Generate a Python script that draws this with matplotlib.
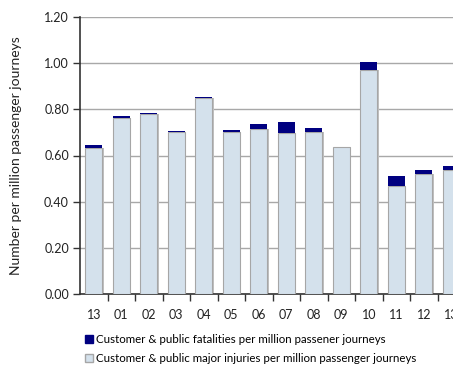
import numpy as np
import matplotlib.pyplot as plt
from matplotlib.patches import Patch

periods = ['13', '01', '02', '03', '04', '05', '06', '07', '08', '09', '10', '11', '12', '13']
injuries = [0.633, 0.762, 0.779, 0.700, 0.848, 0.700, 0.714, 0.698, 0.701, 0.636, 0.970, 0.468, 0.520, 0.537]
totals = [0.645, 0.771, 0.784, 0.706, 0.853, 0.710, 0.736, 0.745, 0.719, 0.636, 1.004, 0.511, 0.537, 0.554]
fatalities = [t - i for t, i in zip(totals, injuries)]

light = '#d4e1ec'
dark = '#000080'
edge = '#a6a6a6'

plt.rcParams['font.family'] = ['Lato', 'DejaVu Sans']

fig = plt.figure(figsize=(4.53, 3.65), dpi=100)
ax = fig.add_axes([80 / 453, 71 / 365, 385 / 453, 277 / 365])

x = np.arange(len(periods))
w = 0.62
ax.bar(x + 0.06, injuries, w, color='#c0c0c0', zorder=2)
ax.bar(x, injuries, w, color=light, edgecolor=edge, linewidth=0.8, zorder=3)
ax.bar(x, fatalities, w, bottom=injuries, color=dark, linewidth=0, zorder=3)

ax.set_xlim(-0.5, 13.5)
ax.set_ylim(0, 1.2)
ax.set_yticks(np.arange(0, 1.21, 0.2))
ax.set_yticklabels(['%.2f' % v for v in np.arange(0, 1.21, 0.2)], fontsize=9, color='#222222')
ax.yaxis.grid(True, color='#a8a8a8', linewidth=1.0, zorder=0)
ax.set_axisbelow(True)

ax.set_xticks(x + 0.5)
ax.set_xticklabels([])
ax.set_xticks(x, minor=True)
ax.set_xticklabels(periods, minor=True, fontsize=9, color='#222222')
ax.tick_params(axis='x', which='minor', length=0, pad=11)
ax.tick_params(axis='x', which='major', length=5, width=1, color='#333333')
ax.tick_params(axis='y', length=5, width=1, color='#333333', pad=3)

for s in ['top', 'right']:
    ax.spines[s].set_visible(False)
for s in ['left', 'bottom']:
    ax.spines[s].set_color('#333333')
    ax.spines[s].set_linewidth(1.2)

ax.set_ylabel('Number per million passenger journeys', fontsize=10, color='#222222')
ax.yaxis.set_label_coords(-0.15, 0.5)

handles = [Patch(facecolor=dark, edgecolor=dark),
           Patch(facecolor=light, edgecolor=edge)]
labels = ['Customer & public fatalities per million passener journeys',
          'Customer & public major injuries per million passenger journeys']
fig.legend(handles, labels, loc='upper left', bbox_to_anchor=(79 / 453, 1 - 328 / 365),
           frameon=False, fontsize=8.3, handlelength=0.7, handleheight=0.7,
           handletextpad=0.25, labelspacing=0.75, borderpad=0)

fig.savefig('out.png', dpi=100)
